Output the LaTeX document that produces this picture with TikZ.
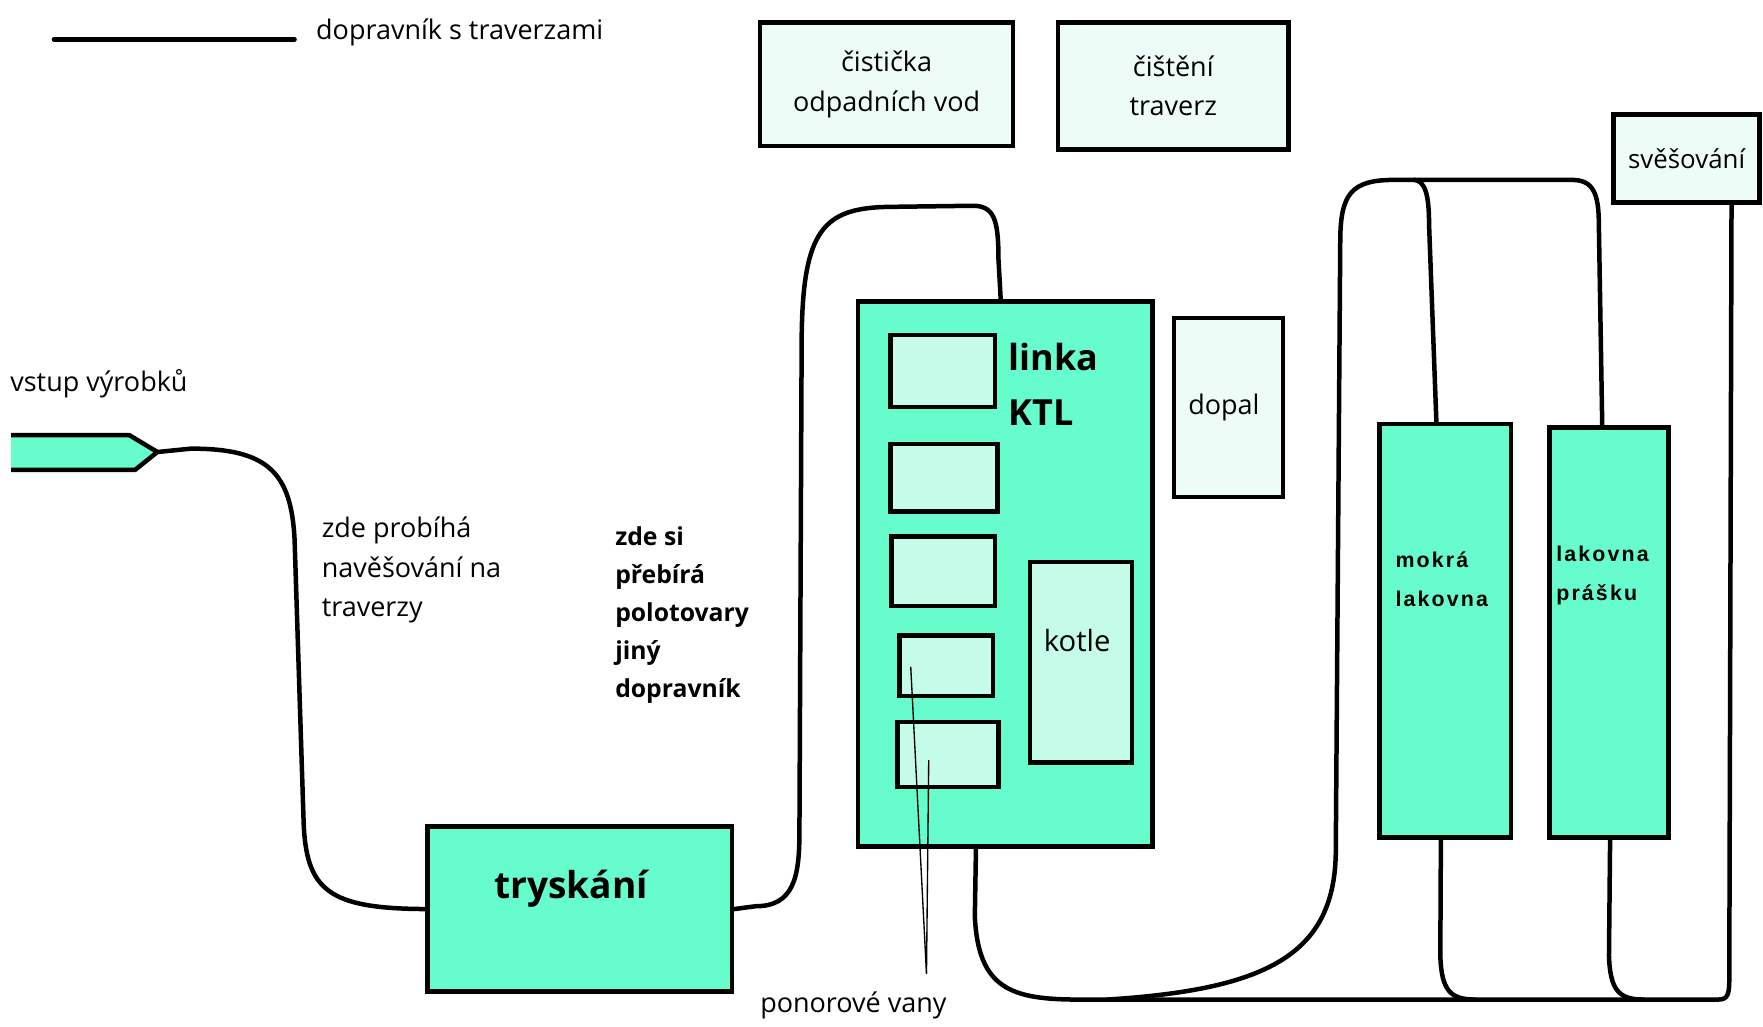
\documentclass[tikz,border=0pt]{standalone}
\usepackage{fontspec}
\setmainfont{Open Sans}
\newfontfamily\arialfont[LetterSpace=10]{Liberation Sans}
\usetikzlibrary{calc}
\definecolor{aqua}{RGB}{102,252,204}
\definecolor{mint}{RGB}{196,252,233}
\definecolor{pale}{RGB}{238,252,248}
\newcommand{\lab}{\fontsize{24}{35}\selectfont}
\newcommand{\blab}{\fontsize{22}{34}\selectfont\bfseries}
\begin{document}
\begin{tikzpicture}[x=1pt,y=-1pt,
  box/.style={draw=black, line width=4pt, anchor=north west, inner sep=0pt, align=center, font=\lab},
  bigbox/.style={box, fill=aqua},
  palebox/.style={box, fill=pale},
  vana/.style={box, fill=mint},
  conv/.style={draw=black, line width=4pt, line join=round, line cap=round},
  pointer/.style={draw=black, line width=1.2pt},
  txt/.style={inner sep=0pt, font=\lab, align=left}]
\useasboundingbox (0,0) rectangle (1568,913);
\fill[white] (0,0) rectangle (1568,913);

% legend
\coordinate (leg1) at (48,35);
\coordinate (leg2) at (262,35);
\draw[conv] (leg1) -- (leg2);
\node[txt, anchor=west] (legtxt) at (281,29) {dopravník s traverzami};

% top boxes
\node[palebox, minimum width=225pt, minimum height=110pt] (cist) at (674,18) {čistička\\odpadních vod};
\node[palebox, minimum width=205pt, minimum height=113pt] (cistr) at (939,18) {čištění\\traverz};
\node[palebox, minimum width=130pt, minimum height=78pt, font=\fontsize{23}{30}\selectfont] (svesov) at (1433,100) {svěšování};
\node[palebox, minimum width=97pt, minimum height=159pt] (dopal) at (1042,281) {dopal\hspace*{8pt}};

% KTL line
\node[bigbox, minimum width=262pt, minimum height=485pt] (ktl) at (761,266) {};
\node[vana, minimum width=93pt, minimum height=64pt] (v1) at (790,296) {};
\node[vana, minimum width=95pt, minimum height=60pt] (v2) at (790,393) {};
\node[vana, minimum width=92pt, minimum height=62pt] (v3) at (791,475) {};
\node[vana, minimum width=83pt, minimum height=54pt] (v4) at (798,563) {};
\node[vana, minimum width=90pt, minimum height=58pt] (v5) at (796,640) {};
\node[vana, minimum width=91pt, minimum height=178pt] (kotle) at (914,498) {};
\node[txt, font=\fontsize{26}{30}\selectfont] (kotletxt) at (958,570) {kotle};
\node[txt, anchor=west, font=\fontsize{32}{49}\selectfont\bfseries] (ktltxt) at (897,342) {linka\\KTL};

% tryskani
\node[bigbox, minimum width=271pt, minimum height=147pt] (tryskani) at (378,733) {};
\node[txt, font=\fontsize{33}{38}\selectfont\bfseries] (trytxt) at (508,790) {tryskání};

% paint shops
\node[bigbox, minimum width=117pt, minimum height=368pt] (mokra) at (1225,375) {};
\node[bigbox, minimum width=106pt, minimum height=365pt] (prasku) at (1376,378) {};
\node[txt, anchor=west, font=\fontsize{19}{35}\selectfont\arialfont\bfseries] (mokratxt) at (1241,515) {mokrá\\lakovna};
\node[txt, anchor=west, font=\fontsize{19}{35}\selectfont\arialfont\bfseries] (praskutxt) at (1384,512) {lakovna\\prášku};

% input
\fill[aqua] (10,387) -- (115,387) -- (140,402) -- (120,418) -- (10,418) -- cycle;
\draw[conv, line cap=butt] (10,387) -- (115,387) -- (140,402) -- (120,418) -- (10,418);
\coordinate (tip) at (140,402);
\node[txt, anchor=west] (vstup) at (9,341) {vstup výrobků};

% labels
\node[txt, anchor=west] (navesovani) at (286,507) {zde probíhá\\navěšování na\\traverzy};
\node[txt, anchor=west, font=\blab] (prebira) at (547,547) {zde si\\přebírá\\polotovary\\jiný\\dopravník};
\node[txt] (ponor) at (759,894) {ponorové vany};

% pointer lines
\coordinate (pj) at (824,866);
\coordinate (p4) at (810,593);
\coordinate (p5) at (826,676);
\draw[pointer] (pj) -- (p4);
\draw[pointer] (pj) -- (p5);

% conveyors
\draw[conv] (tip) -- (170,399) .. controls (238,399) and (259,420) .. (262,480)
  -- (270,730) .. controls (272,792) and (292,808) .. (tryskani.west);
\coordinate (ktlin) at ($(ktl.north)+(-4,0)$);
\draw[conv] (tryskani.east) -- (672,806) .. controls (706,806) and (711,780) .. (711,740)
  -- (713,300) .. controls (714,205) and (732,185) .. (790,184)
  -- (865,183) .. controls (884,183) and (888,195) .. (888,230) -- (ktlin);
\coordinate (ktlout) at ($(ktl.south)+(-26,0)$);
\coordinate (sveout) at ($(svesov.south)+(40,0)$);
\draw[conv] (ktlout) -- (867,815) .. controls (870,880) and (900,889) .. (960,889)
  -- (1528,889) .. controls (1537,889) and (1538,884) .. (1538,870) -- (sveout);
\coordinate (mokrain) at ($(mokra.north)+(-8,0)$);
\coordinate (praskuin) at ($(prasku.north)+(-6,0)$);
\draw[conv] (985,889) .. controls (1125,880) and (1186,850) .. (1188,760)
  -- (1192,215) .. controls (1192,172) and (1202,160) .. (1240,160)
  -- (1398,160) .. controls (1417,160) and (1422,172) .. (1422,200) -- (praskuin);
\draw[conv] (1258,160) .. controls (1268,161) and (1271,175) .. (1271,200) -- (mokrain);
\coordinate (mokraout) at ($(mokra.south)+(-4,0)$);
\coordinate (praskuout) at ($(prasku.south)+(1,0)$);
\draw[conv] (mokraout) -- (1281,850) .. controls (1282,881) and (1290,889) .. (1312,889);
\draw[conv] (praskuout) -- (1431,850) .. controls (1432,881) and (1440,889) .. (1462,889);
\end{tikzpicture}
\end{document}
